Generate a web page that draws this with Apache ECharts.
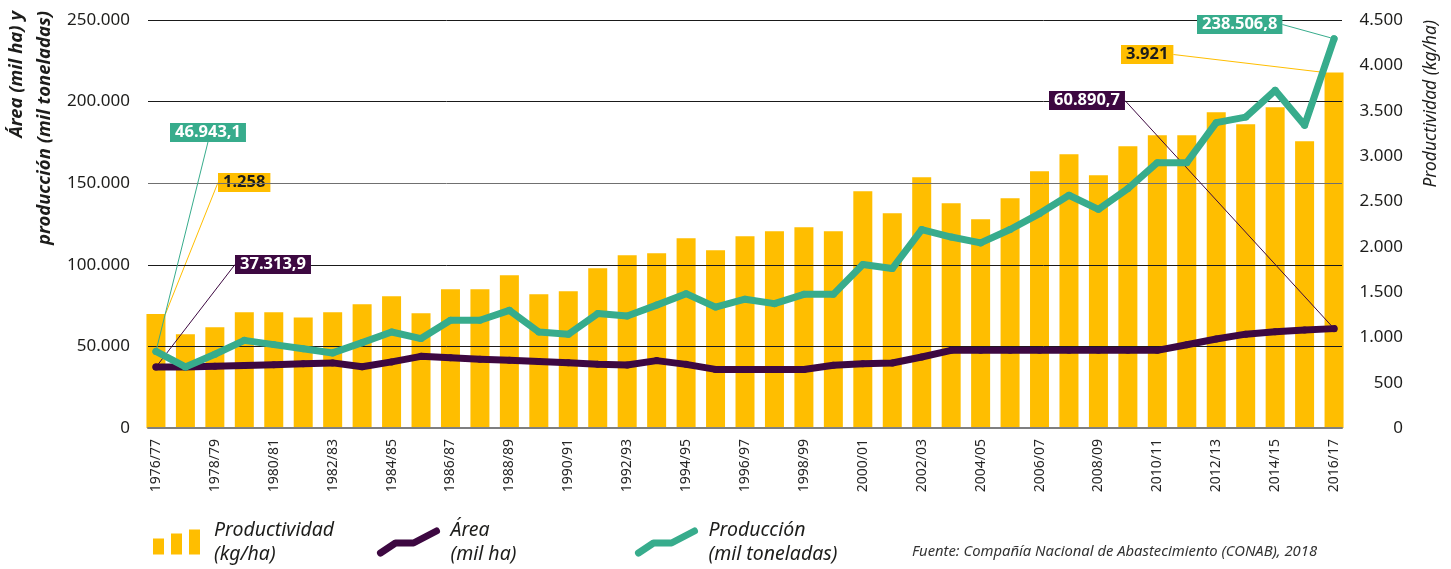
<!DOCTYPE html>
<html><head><meta charset="utf-8">
<script src="https://cdn.jsdelivr.net/npm/echarts@6/dist/echarts.min.js"></script>
<style>html,body{margin:0;padding:0;background:#fff}#c{width:1451px;height:569px}</style>
</head><body><div id="c"></div>
<script>
const categories = ['1976/77','1977/78','1978/79','1979/80','1980/81','1981/82','1982/83','1983/84','1984/85','1985/86',
  '1986/87','1987/88','1988/89','1989/90','1990/91','1991/92','1992/93','1993/94','1994/95','1995/96',
  '1996/97','1997/98','1998/99','1999/00','2000/01','2001/02','2002/03','2003/04','2004/05','2005/06',
  '2006/07','2007/08','2008/09','2009/10','2010/11','2011/12','2012/13','2013/14','2014/15','2015/16','2016/17'];
const productividad = [1258,1033,1110,1276,1276,1220,1276,1364,1453,1265,
  1530,1530,1684,1475,1508,1762,1905,1927,2092,1960,
  2114,2169,2213,2169,2611,2368,2765,2478,2302,2533,
  2831,3019,2787,3107,3228,3228,3482,3350,3537,3162,3921];
const area = [37313.9,37400,37800,38300,38800,39400,39900,37500,40500,43900,
  43100,42200,41500,40700,40000,39000,38600,41300,39000,35900,
  35900,35900,35900,38400,39400,39800,43500,47600,47600,47600,
  47600,47600,47600,47600,47600,51000,54500,57500,59000,60000,60890.7];
const produccion = [46943.1,37400,45200,53700,51100,48600,46000,52300,58800,54800,
  66000,66000,72100,58800,57400,70100,68600,75300,82300,74100,
  78900,76200,81900,81900,100200,97700,121600,117000,113400,121600,
  131400,142600,134000,146700,162600,162600,187100,190500,206900,185500,238506.8];
const leftTicks = {min:0, max:250000, step:50000};
const rightTicks = {min:0, max:4500, step:500};
const labelEvery = 2;

const YELLOW='#FFBE00', GREEN='#37AC8C', PURPLE='#3D0841', INK='#1d1d1b';
const FONT='"Noto Sans", sans-serif';
const fmtInt = v => String(Math.round(v)).replace(/\B(?=(\d{3})+(?!\d))/g,'.');
const fmtDec = v => { const s=v.toFixed(1).split('.'); return fmtInt(+s[0])+','+s[1]; };
const last = categories.length-1;
const toPoints = arr => arr.map((v,i)=> (i===0||i===last) ? {value:[i,v], label:{show:true}} : [i,v]);

// annotation box positions (style only)
const annot = {
  bar:  {0:[218,173], 40:[1121,45]},
  area: {0:[235,255], 40:[1049,91]},
  prod: {0:[170,123], 40:[1197,15]}
};
const layoutFor = key => params => { const p = annot[key][params.dataIndex]; return p ? {x:p[0], y:p[1], align:'left', verticalAlign:'top'} : {}; };
const boxLabel = (bg, fg, fmt) => ({show:false, formatter: p => fmt(p.value[1]), backgroundColor:bg, color:fg,
  fontWeight:'bold', fontSize:16.5, lineHeight:17, fontFamily:FONT, padding:[1,5,1,5]});

const legendText = {fontStyle:'italic', fontSize:19.5, lineHeight:24, color:INK, fontFamily:FONT, padding:[0,0,0,9]};
const legendNames = {'Productividad':'Productividad\n(kg/ha)', 'Área':'Área\n(mil ha)', 'Producción':'Producción\n(mil toneladas)'};
const zig = 'path://M0,22 L15,12 L33,12 L56,0';

const chart = echarts.init(document.getElementById('c'), null, {renderer:'canvas'});
chart.setOption({
  animation:false,
  backgroundColor:'#fff',
  grid:{left:148, right:109, top:20, bottom:141, containLabel:false},
  xAxis:{type:'value', min:-0.27, max:last+0.27, z:2,
    axisLine:{show:true, onZero:false, lineStyle:{color:'#7f7f7f', width:2}},
    axisTick:{show:false}, splitLine:{show:false},
    axisLabel:{customValues: categories.map((c,i)=>i).filter(i=>i%labelEvery===0),
      formatter: v => categories[Math.round(v)], rotate:90, margin:11, fontSize:14, color:'#262626', fontFamily:FONT}},
  yAxis:[
    {type:'value', min:leftTicks.min, max:leftTicks.max, interval:leftTicks.step, position:'left', z:2,
      axisLine:{show:false}, axisTick:{show:false},
      axisLabel:{formatter: fmtInt, fontSize:17, color:INK, margin:18, fontFamily:FONT},
      splitLine:{show:true, lineStyle:{color:['#1a1a1a','#1a1a1a','#1a1a1a','#707070','#1a1a1a','#1a1a1a'], width:1}}},
    {type:'value', min:rightTicks.min, max:rightTicks.max, interval:rightTicks.step, position:'right',
      axisLine:{show:false}, axisTick:{show:false}, splitLine:{show:false},
      axisLabel:{formatter: fmtInt, fontSize:17, color:INK, margin:61, align:'right', fontFamily:FONT}}
  ],
  legend:[
    {data:['Productividad'], left:148, top:513, selectedMode:false, icon:'path://M0,9 H11 V25 H0 Z M18,4 H29 V25 H18 Z M36,0 H47 V25 H36 Z',
      itemWidth:47, itemHeight:25, formatter:n=>legendNames[n], textStyle:legendText, itemStyle:{color:YELLOW}},
    {data:['Área'], left:372, top:513, selectedMode:false, icon:zig, itemWidth:56, itemHeight:22,
      formatter:n=>legendNames[n], textStyle:legendText,
      itemStyle:{color:'rgba(0,0,0,0)', borderColor:PURPLE, borderWidth:7, borderCap:'round', borderJoin:'round'}},
    {data:['Producción'], left:630, top:513, selectedMode:false, icon:zig, itemWidth:56, itemHeight:22,
      formatter:n=>legendNames[n], textStyle:legendText,
      itemStyle:{color:'rgba(0,0,0,0)', borderColor:GREEN, borderWidth:7, borderCap:'round', borderJoin:'round'}}
  ],
  series:[
    {type:'bar', name:'Productividad', yAxisIndex:1, data:toPoints(productividad), barWidth:19, clip:false, z:1,
      itemStyle:{color:YELLOW}, label:boxLabel(YELLOW, INK, fmtInt),
      labelLine:{show:true, lineStyle:{color:YELLOW, width:1}}, labelLayout:layoutFor('bar')},
    {type:'line', name:'Área', yAxisIndex:0, data:toPoints(area), symbol:'circle', symbolSize:7, showSymbol:true, z:3,
      itemStyle:{color:PURPLE}, lineStyle:{color:PURPLE, width:7, cap:'round', join:'round'},
      label:boxLabel(PURPLE, '#fff', fmtDec),
      labelLine:{show:true, lineStyle:{color:PURPLE, width:1}}, labelLayout:layoutFor('area')},
    {type:'line', name:'Producción', yAxisIndex:0, data:toPoints(produccion), symbol:'circle', symbolSize:7, showSymbol:true, z:4,
      itemStyle:{color:GREEN}, lineStyle:{color:GREEN, width:7, cap:'round', join:'round'},
      label:boxLabel(GREEN, '#fff', fmtDec),
      labelLine:{show:true, lineStyle:{color:GREEN, width:1}}, labelLayout:layoutFor('prod')}
  ],
  graphic:[
    {type:'text', x:31, y:11, rotation:Math.PI/2, silent:true,
      style:{text:'Área (mil ha) y\nproducción (mil toneladas)', font:'italic bold 18.5px '+FONT, fill:INK, align:'right', verticalAlign:'middle', lineHeight:28}},
    {type:'text', x:1431, y:20, rotation:Math.PI/2, silent:true,
      style:{text:'Productividad (kg/ha)', font:'italic 17.5px '+FONT, fill:INK, align:'right', verticalAlign:'middle'}},
    {type:'text', x:912, y:552, silent:true,
      style:{text:'Fuente: Compañía Nacional de Abastecimiento (CONAB), 2018', font:'italic 14.8px '+FONT, fill:'#333', align:'left', verticalAlign:'middle'}}
  ]
});
</script></body></html>
